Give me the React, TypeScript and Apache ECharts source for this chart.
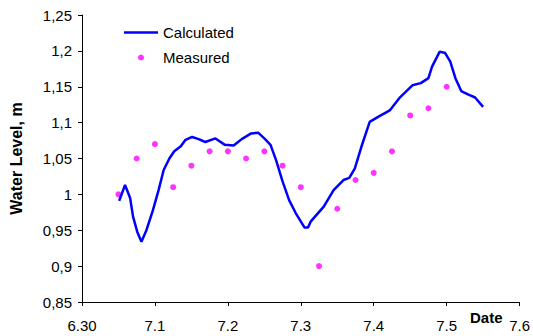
import React, { useEffect, useRef } from "react";
import * as echarts from "echarts";

const xTickLabels = ["6.30", "7.1", "7.2", "7.3", "7.4", "7.5", "7.6"];

const calcX = [0.51, 0.59, 0.66, 0.70, 0.757, 0.815, 0.883, 0.973, 1.05, 1.12, 1.198, 1.265, 1.355, 1.42, 1.51, 1.60, 1.69, 1.83, 1.96, 2.08, 2.19, 2.32, 2.415, 2.50, 2.585, 2.66, 2.75, 2.84, 2.93, 3.05, 3.10, 3.135, 3.315, 3.45, 3.585, 3.665, 3.74, 3.83, 3.945, 4.06, 4.22, 4.35, 4.53, 4.645, 4.75, 4.80, 4.905, 4.98, 5.05, 5.12, 5.20, 5.30, 5.39, 5.50];
const calcY = [0.991, 1.013, 0.995, 0.969, 0.948, 0.934, 0.950, 0.978, 1.006, 1.034, 1.050, 1.060, 1.067, 1.076, 1.080, 1.077, 1.073, 1.078, 1.069, 1.068, 1.077, 1.085, 1.086, 1.078, 1.069, 1.048, 1.018, 0.992, 0.974, 0.954, 0.954, 0.962, 0.983, 1.006, 1.020, 1.023, 1.036, 1.066, 1.101, 1.108, 1.117, 1.134, 1.152, 1.155, 1.162, 1.178, 1.199, 1.197, 1.185, 1.162, 1.144, 1.139, 1.135, 1.122];

const measX = [0.5, 0.75, 1.0, 1.25, 1.5, 1.75, 2.0, 2.25, 2.5, 2.75, 3.0, 3.25, 3.5, 3.75, 4.0, 4.25, 4.5, 4.75, 5.0];
const measY = [1.00, 1.05, 1.07, 1.01, 1.04, 1.06, 1.06, 1.05, 1.06, 1.04, 1.01, 0.90, 0.98, 1.02, 1.03, 1.06, 1.11, 1.12, 1.15];

const FONT = "Liberation Sans, Arial, sans-serif";

export default function App() {
  const ref = useRef<HTMLDivElement>(null);
  useEffect(() => {
    if (!ref.current) return;
    const chart = echarts.init(ref.current, undefined, { renderer: "svg" });
    chart.setOption({
      animation: false,
      backgroundColor: "#fff",
      textStyle: { fontFamily: FONT },
      grid: { left: 78, right: 11, top: 15, bottom: 34, containLabel: false },
      legend: {
        orient: "vertical",
        left: 119,
        top: 20,
        itemWidth: 34,
        itemHeight: 6,
        itemGap: 10,
        textStyle: { fontFamily: FONT, fontSize: 15, color: "#000" },
        data: [
          { name: "Calculated", icon: "path://M0,0H34V2.5H0Z" },
          { name: "Measured", icon: "circle" },
        ],
      },
      xAxis: {
        type: "value",
        min: 0,
        max: 6,
        interval: 1,
        splitLine: { show: false },
        axisLine: { lineStyle: { color: "#000", width: 1 } },
        axisTick: { show: true, length: 4, lineStyle: { color: "#000" } },
        axisLabel: {
          color: "#000",
          fontFamily: FONT,
          fontSize: 15,
          margin: 16,
          formatter: (v: number) => xTickLabels[Math.round(v)] ?? "",
        },
      },
      yAxis: {
        type: "value",
        min: 0.85,
        max: 1.25,
        interval: 0.05,
        splitLine: { show: false },
        axisLine: { show: true, lineStyle: { color: "#000", width: 1 } },
        axisTick: { show: true, length: 4, lineStyle: { color: "#000" } },
        axisLabel: {
          color: "#000",
          fontFamily: FONT,
          fontSize: 15,
          margin: 10,
          formatter: (v: number) => String(Number(v.toFixed(2))).replace(".", ","),
        },
        name: "Water Level, m",
        nameLocation: "middle",
        nameGap: 58,
        nameTextStyle: { color: "#000", fontFamily: FONT, fontSize: 16, fontWeight: "bold" },
      },
      graphic: [
        {
          type: "text",
          left: 470,
          top: 310,
          style: { text: "Date", fontFamily: FONT, fontSize: 15, fontWeight: "bold", fill: "#000" },
        },
      ],
      series: [
        {
          name: "Calculated",
          type: "line",
          data: calcX.map((x, i) => [x, calcY[i]]),
          showSymbol: false,
          symbol: "none",
          smooth: false,
          lineStyle: { color: "#0000FF", width: 2.5 },
          itemStyle: { color: "#0000FF" },
        },
        {
          name: "Measured",
          type: "scatter",
          data: measX.map((x, i) => [x, measY[i]]),
          symbol: "circle",
          symbolSize: 6,
          itemStyle: { color: "#FF00FF" },
        },
      ],
    });
    return () => chart.dispose();
  }, []);
  return <div ref={ref} style={{ width: 533, height: 336, position: "absolute", left: 0, top: 0 }} />;
}
